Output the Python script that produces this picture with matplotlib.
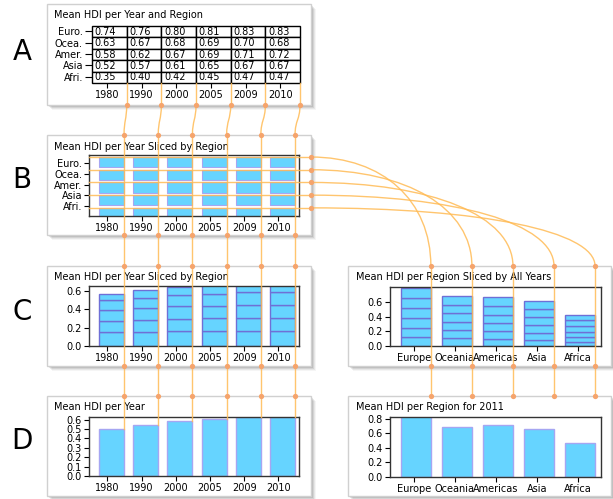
import numpy as np
import matplotlib
matplotlib.use('Agg')
import matplotlib.pyplot as plt
from matplotlib.patches import Rectangle, PathPatch
from matplotlib.path import Path
from matplotlib.lines import Line2D

# data
years = ['1980', '1990', '2000', '2005', '2009', '2010']
regions_short = ['Euro.', 'Ocea.', 'Amer.', 'Asia', 'Afri.']
regions = ['Europe', 'Oceania', 'Americas', 'Asia', 'Africa']
hdi = np.array([
    [0.74, 0.76, 0.80, 0.81, 0.83, 0.83],   # Europe
    [0.63, 0.67, 0.68, 0.69, 0.70, 0.68],   # Oceania
    [0.58, 0.62, 0.67, 0.69, 0.71, 0.72],   # Americas
    [0.52, 0.57, 0.61, 0.65, 0.67, 0.67],   # Asia
    [0.35, 0.40, 0.42, 0.45, 0.47, 0.47],   # Africa
])
hdi_per_year = [0.505, 0.547, 0.586, 0.610, 0.630, 0.633]
hdi_2011 = [0.83, 0.68, 0.72, 0.665, 0.465]

W, H = 613, 499
BAR = '#66d4ff'
EDGE = '#a6a6f2'
SLICE = '#6f6fd6'
ORANGE = '#ffbb55'
DOT = '#f5a46c'

fig = plt.figure(figsize=(W / 100, H / 100), dpi=100)
fig.patch.set_facecolor('white')


def fx(x):
    return x / W


def fy(y):
    return 1 - y / H


def add_ax(l, t, r, b):
    ax = fig.add_axes([fx(l), fy(b), (r - l) / W, (b - t) / H])
    ax.tick_params(labelsize=7, length=3.5, width=0.8, pad=1.5)
    for s in ax.spines.values():
        s.set_linewidth(1)
        s.set_color('#333333')
    return ax


def panel(l, t, r, b, title):
    # soft shadow to the right and below
    for k, a in [(5, 0.04), (4, 0.06), (3, 0.08), (2, 0.1), (1, 0.12)]:
        fig.add_artist(Rectangle((fx(l + k), fy(b + k)), (r - l) / W, (b - t) / H,
                                 transform=fig.transFigure, facecolor='k', alpha=a,
                                 edgecolor='none', zorder=-3))
    fig.add_artist(Rectangle((fx(l), fy(b)), (r - l) / W, (b - t) / H,
                             transform=fig.transFigure, facecolor='white',
                             edgecolor='#d0d0d0', lw=1, zorder=-2))
    fig.text(fx(l + 7.5), fy(t + 11.5), title, fontsize=7, va='center', ha='left')


# panel boxes
panel(47, 4, 311, 105, 'Mean HDI per Year and Region')
panel(47, 135, 311, 235, 'Mean HDI per Year Sliced by Region')
panel(47, 266, 311, 366, 'Mean HDI per Year Sliced by Region')
panel(348, 266, 611, 366, 'Mean HDI per Region Sliced by All Years')
panel(47, 396, 311, 496, 'Mean HDI per Year')
panel(348, 396, 611, 496, 'Mean HDI per Region for 2011')

for letter, y in [('A', 52), ('B', 180), ('C', 312), ('D', 441)]:
    fig.text(fx(22), fy(y), letter, fontsize=20, ha='center', va='center')

x = np.arange(len(years))
xr = np.arange(len(regions))
bw = 0.73
xlim_year = (-0.66, 5.48)
xlim_reg = (-0.63, 4.51)

# A: table
axA = add_ax(92, 26, 300, 83)
for s in axA.spines.values():
    s.set_visible(False)
axA.set_xlim(0, 6)
axA.set_ylim(5, 0)
tab = axA.table(cellText=[['%.2f' % v for v in row] for row in hdi],
                cellLoc='left', bbox=[0, 0, 1, 1])
tab.auto_set_font_size(False)
tab.set_fontsize(7)
for cell in tab.get_celld().values():
    cell.set_linewidth(1)
    cell.PAD = 0.08
axA.set_xticks(x + 0.43)
axA.set_xticklabels(years)
axA.set_yticks(np.arange(5) + 0.45)
axA.set_yticklabels(regions_short)
axA.tick_params(axis='y', length=5)

# B: sliced by region
axB = add_ax(89, 155, 299, 216)
for i in range(5):
    axB.bar(x, np.full(6, 0.8), bottom=i, width=bw, color=BAR, edgecolor=EDGE, lw=0.8)
axB.set_xlim(*xlim_year)
axB.set_ylim(4.64, -0.16)
axB.set_xticks(x - 0.12)
axB.set_xticklabels(years)
axB.set_yticks(np.arange(5) * 0.85 + 0.47)
axB.set_yticklabels(regions_short)

# C left: stacked slices per year
axC = add_ax(89, 286, 299, 346)
bottom = np.zeros(6)
for i in range(5):
    axC.bar(x, hdi[i] / 5, bottom=bottom, width=bw, color=BAR, edgecolor=SLICE, lw=1)
    bottom += hdi[i] / 5
axC.set_xlim(*xlim_year)
axC.set_ylim(0, 0.65)
axC.set_yticks([0.0, 0.2, 0.4, 0.6])
axC.set_xticks(x - 0.12)
axC.set_xticklabels(years)

# C right: stacked slices per region
axCR = add_ax(390, 287, 601, 346)
bottom = np.zeros(5)
for j in range(6):
    axCR.bar(xr, hdi[:, j] / 6, bottom=bottom, width=bw, color=BAR, edgecolor=SLICE, lw=1)
    bottom += hdi[:, j] / 6
axCR.set_xlim(*xlim_reg)
axCR.set_ylim(0, 0.803)
axCR.set_yticks([0.0, 0.2, 0.4, 0.6])
axCR.set_xticks(xr - 0.05)
axCR.set_xticklabels(regions)

# D left: per year
axD = add_ax(89, 417, 299, 476)
axD.bar(x, hdi_per_year, width=bw, color=BAR, edgecolor=EDGE, lw=1)
axD.set_xlim(*xlim_year)
axD.set_ylim(0, 0.628)
axD.set_yticks(np.arange(0, 0.61, 0.1))
axD.set_xticks(x - 0.12)
axD.set_xticklabels(years)

# D right: per region 2011
axDR = add_ax(390, 417, 601, 477)
axDR.bar(xr, hdi_2011, width=bw, color=BAR, edgecolor=EDGE, lw=1)
axDR.set_xlim(*xlim_reg)
axDR.set_ylim(0, 0.823)
axDR.set_yticks([0.0, 0.2, 0.4, 0.6, 0.8])
axDR.set_xticks(xr - 0.05)
axDR.set_xticklabels(regions)


# ---- orange linking lines, in pixel coords (top-down)
def px(ax, xy):
    dx, dy = ax.transData.transform(xy)
    return dx, H - dy


def to_fig(pts):
    return [(p[0] / W, 1 - p[1] / H) for p in pts]


def seg(pts):
    fp = to_fig(pts)
    fig.add_artist(Line2D([p[0] for p in fp], [p[1] for p in fp], color=ORANGE,
                          lw=1, alpha=0.85, transform=fig.transFigure, zorder=5))


def curve(p0, c1, c2, p1):
    path = Path(to_fig([p0, c1, c2, p1]),
                [Path.MOVETO, Path.CURVE4, Path.CURVE4, Path.CURVE4])
    fig.add_artist(PathPatch(path, facecolor='none', edgecolor=ORANGE, lw=1,
                             alpha=0.85, transform=fig.transFigure, zorder=5))


def dots(pts):
    fp = to_fig(pts)
    fig.add_artist(Line2D([p[0] for p in fp], [p[1] for p in fp], ls='none',
                          marker='o', ms=3.8, mfc=DOT, mec='none',
                          transform=fig.transFigure, zorder=6))


ya_bot = H - axA.transAxes.transform((0, 0))[1]
for i in range(len(years)):
    xa = axA.transData.transform((i + 1, 0))[0]
    xb = axB.transData.transform((x[i] + bw / 2, 0))[0]
    ytop = px(axD, (x[i], min(hdi_per_year[i], axD.get_ylim()[1])))[1]
    seg([(xa, ya_bot), (xa, 105)])
    curve((xa, 105), (xa, 120), (xb, 120), (xb, 135))
    seg([(xb, 135), (xb, ytop)])
    dots([(xa, 105), (xb, 135), (xb, 235), (xb, 266), (xb, 366), (xb, 396)])

xl = axB.transAxes.transform((0, 0))[0]
for j in range(len(regions)):
    yr = px(axB, (0, j))[1]
    xc = axCR.transData.transform((xr[j] + bw / 2, 0))[0]
    seg([(xl, yr), (311, yr)])
    k = 0.6
    curve((311, yr), (311 + k * (xc - 311), yr), (xc, 266 - k * (266 - yr)), (xc, 266))
    seg([(xc, 266), (xc, 396)])
    dots([(311, yr), (xc, 266), (xc, 366), (xc, 396)])

fig.savefig('out.png', dpi=100, facecolor='white')
